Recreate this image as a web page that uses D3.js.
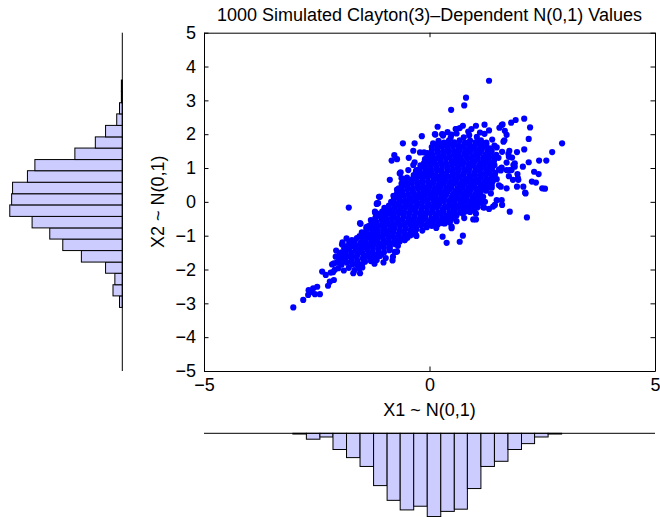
<!DOCTYPE html>
<html>
<head>
<meta charset="utf-8">
<script src="https://cdn.jsdelivr.net/npm/d3@7"></script>
<style>
  body { margin: 0; background: #fff; }
  text { font-family: "Liberation Sans", Arial, Helvetica, sans-serif; fill: #000; }
</style>
</head>
<body>
<svg id="grafico" width="660" height="517"></svg>
<script>
// valores
const titulo = '1000 Simulated Clayton(3)\u2013Dependent N(0,1) Values';
const rotuloX = 'X1 ~ N(0,1)';
const rotuloY = 'X2 ~ N(0,1)';
const ticksX = [-5, 0, 5];
const ticksY = [-5, -4, -3, -2, -1, 0, 1, 2, 3, 4, 5];

// histograma de X2 (lateral, de baixo para cima)
const bordasY = [-3.12, -2.78, -2.45, -2.11, -1.78, -1.44, -1.10, -0.77, -0.43, -0.09, 0.24,
  0.58, 0.92, 1.25, 1.59, 1.92, 2.26, 2.60, 2.93, 3.27, 3.60];
const contagemY = [3, 10, 8, 18, 44, 64, 78, 97, 121, 119, 118, 102, 94, 51, 29, 18, 6, 3, 1, 1];

// histograma de X1 (embaixo, da esquerda para a direita)
const bordasX = [-3.03, -2.73, -2.43, -2.14, -1.84, -1.54, -1.24, -0.94, -0.65, -0.35, -0.05,
  0.25, 0.55, 0.84, 1.14, 1.44, 1.74, 2.04, 2.33, 2.63, 2.93];
const contagemX = [1, 8, 5, 22, 33, 45, 71, 91, 104, 99, 113, 106, 103, 75, 45, 38, 22, 14, 5, 1];

// pontos isolados / borda da nuvem
const pontosBorda = [
  [0.81,3.08],[0.77,2.85],[0.48,2.72],[1.32,3.58],[0.74,2.25],[1.03,2.25],[0.93,2.15],[0.13,1.99],
  [0.29,1.99],[0.49,1.99],[0.59,2.15],[-0.17,1.94],[-0.59,1.73],[-0.33,1.73],[0.08,1.73],[0.19,1.68],
  [-0.36,1.51],[-0.21,1.46],[-0.12,1.46],[-0.78,1.38],[-0.84,1.22],[-0.72,1.26],[-0.46,1.30],[-0.33,1.17],
  [-0.03,1.19],[0.08,1.26],[-0.88,0.65],[-0.64,0.87],[-0.47,0.94],[-0.68,0.40],[-1.10,0.15],[-1.17,-0.06],
  [-1.79,-0.17],[-1.20,-0.34],[-0.66,0.84],[-0.62,0.70],[-0.43,0.60],[-0.36,1.09],[-0.29,0.94],
  [2.10,2.46],[1.91,2.42],[1.81,2.34],[1.62,2.29],[1.55,2.19],[2.23,2.20],[1.32,2.11],[1.67,2.10],
  [1.71,1.98],[1.66,1.82],[2.20,1.86],[2.94,1.73],[2.10,1.55],[2.72,1.47],[2.59,1.22],[2.43,1.22],
  [2.20,1.17],[2.07,1.04],[1.94,1.47],[1.75,1.42],[1.83,1.31],[1.89,1.14],[2.32,0.89],[2.42,0.82],
  [2.27,0.60],[2.36,0.57],[2.50,0.40],[2.56,0.39],[2.13,0.25],[1.96,0.70],[1.94,0.45],[1.78,-0.29],
  [2.16,-0.46],[1.61,-0.09],[1.49,0.05],[1.41,-0.14],[1.32,-0.21],[1.21,-0.17],[1.23,0.00],[1.54,0.49],
  [1.44,0.71],[1.58,0.45],[1.71,0.40],[1.38,0.42],[1.36,0.25],[1.34,1.05],[1.54,0.96],[1.71,0.94],
  [1.82,0.94],[1.89,1.04],[1.95,0.82],[1.76,0.76],[1.85,0.65],[1.71,1.16],[1.76,1.33],[1.49,1.61],
  [1.38,1.51],[1.30,1.38],[1.25,1.24],[1.19,1.73],[1.12,1.78],[0.12,2.00],[0.28,2.00],[0.58,2.15],
  [1.60,2.27],[1.64,1.78],[1.77,1.51],[1.86,1.09],[1.78,0.94],[1.97,0.65],[2.08,0.45],[2.12,0.27],
  [1.19,-0.16],[0.97,-0.52],[1.03,-0.52],[1.03,-0.35],[0.77,-0.48],[0.60,-0.57],[0.58,-0.39],[0.49,-0.78],
  [0.29,-1.03],[0.38,-1.21],[0.74,-1.00],[0.67,-1.18],[0.34,-0.64],[0.45,-0.61],[1.45,-0.09],[1.60,0.05],
  [1.19,0.15],[0.38,-0.44],[0.49,-0.73],
  [-3.02,-3.12],[-2.80,-2.90],[-2.68,-2.61],[-2.58,-2.56],[-2.49,-2.51],[-2.43,-2.73],[-2.54,-2.73],
  [-2.69,-2.75],[-2.25,-2.48],[-2.38,-2.06],[-2.30,-2.16],[-2.19,-2.09],[-2.10,-2.01],[-2.12,-2.31],
  [-2.21,-2.36],[-2.14,-2.08],[-1.93,-1.20],[-1.53,-0.65],[-1.69,-2.11],[-1.54,-2.11],[-0.82,-1.73],
  [-0.29,-1.01],[-2.12,-1.82],[-1.98,-1.72],[-1.84,-1.62],[-1.73,-1.77],[-1.60,-1.87],[-1.55,-1.97],
  [-1.36,-0.73],[-1.47,-1.03],[-1.25,-0.63],[-1.17,-0.34],[-1.16,-0.04],[-1.12,0.15],[-0.72,-1.47],
  [-0.81,-1.62],[-1.17,-1.72],[-1.10,-1.60],[-1.32,-1.67],[-0.55,-1.13],[-0.30,-0.98],[-2.62,-2.66],
  [-1.91,-1.52],[-1.80,-1.40],[-1.69,-1.31],[-1.58,-1.42],[-1.47,-1.33],[-1.43,-1.77],[-1.29,-1.57],
  [-1.29,-0.98],[-0.73,-1.47],[-1.54,-0.63],[-1.40,-0.75],[-1.21,-0.29],[-1.14,-0.04]
];

// miolo denso da nuvem
const pontosMiolo = [
  [-2.02,-1.96],[-1.90,-2.03],[-1.79,-1.95],[-1.66,-2.02],[-1.49,-1.94],
  [-2.16,-1.85],[-2.05,-1.79],[-1.95,-1.86],[-1.83,-1.80],[-1.71,-1.85],[-1.60,-1.78],[-1.49,-1.84],[-1.22,-1.83],[-1.02,-1.79],
  [-2.08,-1.62],[-1.96,-1.67],[-1.85,-1.60],[-1.72,-1.66],[-1.61,-1.61],[-1.48,-1.67],[-1.37,-1.59],[-1.25,-1.65],[-1.12,-1.60],[-0.97,-1.66],
  [-2.07,-1.44],[-1.95,-1.49],[-1.84,-1.43],[-1.72,-1.50],[-1.60,-1.45],[-1.49,-1.50],[-1.37,-1.43],[-1.26,-1.49],[-1.13,-1.44],[-1.01,-1.50],[-0.89,-1.43],[-0.77,-1.48],
  [-1.94,-1.26],[-1.83,-1.31],[-1.71,-1.25],[-1.59,-1.30],[-1.47,-1.24],[-1.36,-1.31],[-1.24,-1.26],[-1.12,-1.30],[-1.00,-1.24],[-0.88,-1.31],[-0.76,-1.25],[-0.70,-1.30],
  [-1.84,-1.08],[-1.72,-1.13],[-1.61,-1.07],[-1.49,-1.12],[-1.37,-1.06],[-1.25,-1.13],[-1.14,-1.07],[-1.02,-1.12],[-0.90,-1.06],[-0.78,-1.12],[-0.67,-1.07],[-0.55,-1.13],[-0.49,-1.06],
  [-1.50,-0.90],[-1.38,-0.95],[-1.27,-0.89],[-1.15,-0.94],[-1.03,-0.90],[-0.91,-0.96],[-0.80,-0.89],[-0.68,-0.94],[-0.56,-0.90],[-0.44,-0.95],[-0.32,-0.88],
  [-1.35,-0.72],[-1.23,-0.77],[-1.12,-0.71],[-1.00,-0.76],[-0.88,-0.70],[-0.77,-0.76],[-0.65,-0.71],[-0.53,-0.77],[-0.41,-0.71],[-0.30,-0.76],[-0.18,-0.70],[-0.06,-0.75],[0.05,-0.71],[0.15,-0.77],
  [-1.30,-0.54],[-1.18,-0.59],[-1.06,-0.53],[-0.95,-0.58],[-0.83,-0.52],[-0.71,-0.58],[-0.60,-0.53],[-0.48,-0.59],[-0.36,-0.53],[-0.24,-0.58],[-0.13,-0.52],[-0.01,-0.58],[0.11,-0.53],[0.23,-0.59],[0.34,-0.53],[0.45,-0.57],
  [-1.15,-0.36],[-1.03,-0.41],[-0.92,-0.35],[-0.80,-0.40],[-0.68,-0.34],[-0.57,-0.40],[-0.45,-0.35],[-0.33,-0.41],[-0.21,-0.35],[-0.10,-0.40],[0.02,-0.34],[0.14,-0.40],[0.25,-0.35],[0.37,-0.41],[0.49,-0.36],[0.60,-0.40],[0.74,-0.35],
  [-1.00,-0.18],[-0.88,-0.23],[-0.77,-0.17],[-0.65,-0.22],[-0.53,-0.16],[-0.41,-0.22],[-0.30,-0.17],[-0.18,-0.23],[-0.06,-0.17],[0.06,-0.22],[0.17,-0.16],[0.29,-0.22],[0.41,-0.17],[0.53,-0.23],[0.64,-0.17],[0.76,-0.22],[0.88,-0.16],[0.99,-0.22],[1.06,-0.17],
  [-0.85,0.00],[-0.73,-0.05],[-0.62,0.01],[-0.50,-0.04],[-0.38,0.02],[-0.26,-0.04],[-0.15,0.01],[-0.03,-0.05],[0.09,0.01],[0.21,-0.04],[0.32,0.02],[0.44,-0.04],[0.56,0.01],[0.68,-0.05],[0.79,0.00],[0.91,-0.04],[1.03,0.01],[1.14,-0.03],
  [-0.80,0.18],[-0.68,0.13],[-0.57,0.19],[-0.45,0.14],[-0.33,0.20],[-0.21,0.14],[-0.10,0.19],[0.02,0.13],[0.14,0.19],[0.26,0.14],[0.37,0.20],[0.49,0.13],[0.61,0.19],[0.73,0.14],[0.84,0.19],[0.96,0.13],[1.08,0.18],[1.15,0.14],
  [-0.72,0.36],[-0.60,0.31],[-0.49,0.37],[-0.37,0.32],[-0.25,0.38],[-0.13,0.31],[-0.02,0.37],[0.10,0.32],[0.22,0.38],[0.34,0.31],[0.45,0.37],[0.57,0.32],[0.69,0.38],[0.81,0.31],[0.92,0.37],[1.04,0.32],[1.16,0.37],[1.25,0.33],
  [-0.62,0.54],[-0.50,0.49],[-0.39,0.55],[-0.27,0.50],[-0.15,0.56],[-0.03,0.49],[0.08,0.55],[0.20,0.50],[0.32,0.56],[0.44,0.49],[0.55,0.55],[0.67,0.50],[0.79,0.56],[0.91,0.49],[1.02,0.55],[1.14,0.50],[1.26,0.56],[1.38,0.50],
  [-0.50,0.72],[-0.38,0.67],[-0.27,0.73],[-0.15,0.68],[-0.03,0.74],[0.09,0.67],[0.20,0.73],[0.32,0.68],[0.44,0.74],[0.56,0.67],[0.67,0.73],[0.79,0.68],[0.91,0.74],[1.03,0.67],[1.14,0.73],[1.26,0.68],[1.38,0.72],[1.49,0.67],
  [-0.30,0.90],[-0.18,0.85],[-0.07,0.91],[0.05,0.86],[0.17,0.92],[0.29,0.85],[0.40,0.91],[0.52,0.86],[0.64,0.92],[0.76,0.85],[0.87,0.91],[0.99,0.86],[1.11,0.92],[1.23,0.85],[1.34,0.91],[1.46,0.86],[1.58,0.93],
  [-0.20,1.08],[-0.08,1.03],[0.03,1.09],[0.15,1.04],[0.27,1.10],[0.39,1.03],[0.50,1.09],[0.62,1.04],[0.74,1.10],[0.86,1.03],[0.97,1.09],[1.09,1.04],[1.21,1.10],[1.33,1.03],[1.44,1.09],[1.60,1.01],
  [-0.10,1.26],[0.02,1.21],[0.13,1.27],[0.25,1.22],[0.37,1.28],[0.49,1.21],[0.60,1.27],[0.72,1.22],[0.84,1.28],[0.96,1.21],[1.07,1.27],[1.19,1.22],[1.31,1.28],[1.43,1.21],[1.53,1.30],
  [-0.05,1.44],[0.07,1.39],[0.18,1.45],[0.30,1.40],[0.42,1.46],[0.54,1.39],[0.65,1.45],[0.77,1.40],[0.89,1.46],[1.01,1.39],[1.12,1.45],[1.24,1.40],[1.36,1.46],[1.48,1.39],[1.61,1.48],
  [0.05,1.62],[0.17,1.57],[0.28,1.63],[0.40,1.58],[0.52,1.64],[0.64,1.57],[0.75,1.63],[0.87,1.58],[0.99,1.64],[1.11,1.57],[1.22,1.63],[1.34,1.58],[1.44,1.66],
  [0.20,1.80],[0.32,1.75],[0.43,1.81],[0.55,1.76],[0.67,1.82],[0.79,1.75],[0.90,1.81],[1.02,1.76],[1.14,1.82],[1.26,1.75],[1.39,1.84],
  [0.30,1.96],[0.47,1.90],[0.60,2.02],[0.76,1.91],[0.88,1.97],[1.05,1.92],[1.22,2.01],
  [0.18,2.22],[0.40,2.06],[0.67,2.18],[0.86,2.08],[1.12,2.05],[1.22,2.28]
];

// pontos entre as fileiras do miolo (preenchem os buracos)
const pontosEntre = [
  [-2.00,-1.72],[-1.86,-1.75],[-1.73,-1.71],[-1.60,-1.74],[-1.45,-1.72],[-1.30,-1.75],
  [-1.99,-1.55],[-1.86,-1.53],[-1.74,-1.57],[-1.60,-1.54],[-1.47,-1.56],[-1.34,-1.53],[-1.20,-1.57],[-1.07,-1.55],
  [-1.89,-1.37],[-1.77,-1.35],[-1.64,-1.39],[-1.52,-1.36],[-1.39,-1.38],[-1.26,-1.35],[-1.14,-1.39],[-1.01,-1.36],[-0.88,-1.38],
  [-1.78,-1.19],[-1.66,-1.17],[-1.53,-1.21],[-1.41,-1.18],[-1.29,-1.20],[-1.16,-1.17],[-1.04,-1.21],[-0.91,-1.18],[-0.79,-1.20],[-0.66,-1.17],
  [-1.55,-1.01],[-1.42,-0.99],[-1.30,-1.03],[-1.18,-1.00],[-1.05,-1.02],[-0.93,-0.99],[-0.80,-1.03],[-0.68,-1.00],[-0.55,-1.02],[-0.42,-0.99],
  [-1.40,-0.83],[-1.28,-0.81],[-1.16,-0.85],[-1.03,-0.82],[-0.91,-0.84],[-0.79,-0.81],[-0.66,-0.85],[-0.54,-0.82],[-0.42,-0.84],[-0.29,-0.81],[-0.16,-0.85],
  [-1.29,-0.65],[-1.17,-0.63],[-1.05,-0.67],[-0.92,-0.64],[-0.80,-0.66],[-0.68,-0.63],[-0.55,-0.67],[-0.43,-0.64],[-0.30,-0.66],[-0.18,-0.63],[-0.06,-0.67],[0.07,-0.64],[0.19,-0.66],[0.30,-0.63],
  [-1.20,-0.47],[-1.08,-0.45],[-0.96,-0.49],[-0.83,-0.46],[-0.71,-0.48],[-0.58,-0.45],[-0.46,-0.49],[-0.34,-0.46],[-0.21,-0.48],[-0.09,-0.45],[0.04,-0.49],[0.16,-0.46],[0.28,-0.48],[0.41,-0.45],[0.53,-0.49],
  [-1.05,-0.29],[-0.93,-0.27],[-0.80,-0.31],[-0.68,-0.28],[-0.56,-0.30],[-0.43,-0.27],[-0.31,-0.31],[-0.18,-0.28],[-0.06,-0.30],[0.07,-0.27],[0.19,-0.31],[0.31,-0.28],[0.44,-0.30],[0.56,-0.27],[0.68,-0.31],[0.81,-0.28],[0.90,-0.30],
  [-0.90,-0.11],[-0.78,-0.09],[-0.65,-0.13],[-0.53,-0.10],[-0.41,-0.12],[-0.28,-0.09],[-0.16,-0.13],[-0.03,-0.10],[0.09,-0.12],[0.21,-0.09],[0.34,-0.13],[0.46,-0.10],[0.58,-0.12],[0.71,-0.09],[0.83,-0.13],[0.95,-0.10],[1.05,-0.12],
  [-0.79,0.07],[-0.67,0.09],[-0.54,0.05],[-0.42,0.08],[-0.30,0.06],[-0.17,0.09],[-0.05,0.05],[0.08,0.08],[0.20,0.06],[0.32,0.09],[0.45,0.05],[0.57,0.08],[0.69,0.06],[0.82,0.09],[0.94,0.05],[1.06,0.08],
  [-0.72,0.25],[-0.60,0.27],[-0.47,0.23],[-0.35,0.26],[-0.23,0.24],[-0.10,0.27],[0.02,0.23],[0.15,0.26],[0.27,0.24],[0.39,0.27],[0.52,0.23],[0.64,0.26],[0.76,0.24],[0.89,0.27],[1.01,0.23],[1.13,0.26],
  [-0.62,0.43],[-0.50,0.45],[-0.37,0.41],[-0.25,0.44],[-0.13,0.42],[0.00,0.45],[0.12,0.41],[0.25,0.44],[0.37,0.42],[0.49,0.45],[0.62,0.41],[0.74,0.44],[0.86,0.42],[0.99,0.45],[1.11,0.41],[1.23,0.44],[1.30,0.42],
  [-0.52,0.61],[-0.40,0.63],[-0.27,0.59],[-0.15,0.62],[-0.03,0.60],[0.10,0.63],[0.22,0.59],[0.35,0.62],[0.47,0.60],[0.59,0.63],[0.72,0.59],[0.84,0.62],[0.96,0.60],[1.09,0.63],[1.21,0.59],[1.33,0.62],[1.40,0.60],
  [-0.35,0.79],[-0.23,0.81],[-0.10,0.77],[0.02,0.80],[0.14,0.78],[0.27,0.81],[0.39,0.77],[0.52,0.80],[0.64,0.78],[0.76,0.81],[0.89,0.77],[1.01,0.80],[1.13,0.78],[1.26,0.81],[1.38,0.77],[1.45,0.80],
  [-0.22,0.97],[-0.10,0.99],[0.03,0.95],[0.15,0.98],[0.27,0.96],[0.40,0.99],[0.52,0.95],[0.65,0.98],[0.77,0.96],[0.89,0.99],[1.02,0.95],[1.14,0.98],[1.26,0.96],[1.39,0.99],
  [-0.12,1.15],[0.00,1.17],[0.13,1.13],[0.25,1.16],[0.37,1.14],[0.50,1.17],[0.62,1.13],[0.75,1.16],[0.87,1.14],[0.99,1.17],[1.12,1.13],[1.24,1.16],[1.36,1.14],
  [-0.05,1.33],[0.07,1.35],[0.20,1.31],[0.32,1.34],[0.44,1.32],[0.57,1.35],[0.69,1.31],[0.82,1.34],[0.94,1.32],[1.06,1.35],[1.19,1.31],[1.31,1.34],[1.43,1.32],
  [0.05,1.51],[0.17,1.53],[0.30,1.49],[0.42,1.52],[0.54,1.50],[0.67,1.53],[0.79,1.49],[0.92,1.52],[1.04,1.50],[1.16,1.53],[1.29,1.49],
  [0.15,1.69],[0.27,1.71],[0.40,1.67],[0.52,1.70],[0.64,1.68],[0.77,1.71],[0.89,1.67],[1.02,1.70],[1.14,1.68],[1.26,1.71]
];

const svg = d3.select('#grafico');

// eixo principal
const x = d3.scaleLinear().domain([-5, 5]).range([204, 655]);
const y = d3.scaleLinear().domain([-5, 5]).range([371, 32.7]);

// histogramas: escala de contagem
const hx = d3.scaleLinear().domain([0, 130]).range([122.3, 1.4]);
const hy = d3.scaleLinear().domain([0, 120]).range([433.3, 521.7]);

const corBarra = '#ccccff';

// histograma lateral (X2)
svg.append('g').selectAll('rect')
  .data(contagemY)
  .enter()
  .append('rect')
  .attr('x', d => hx(d))
  .attr('width', d => hx(0) - hx(d))
  .attr('y', (d, i) => y(bordasY[i + 1]))
  .attr('height', (d, i) => y(bordasY[i]) - y(bordasY[i + 1]))
  .attr('fill', corBarra)
  .attr('stroke', '#000')
  .attr('stroke-width', 1);

svg.append('line')
  .attr('x1', hx(0)).attr('x2', hx(0))
  .attr('y1', y(5)).attr('y2', y(-5))
  .attr('stroke', '#000');

// histograma de baixo (X1)
svg.append('g').selectAll('rect')
  .data(contagemX)
  .enter()
  .append('rect')
  .attr('x', (d, i) => x(bordasX[i]))
  .attr('width', (d, i) => x(bordasX[i + 1]) - x(bordasX[i]))
  .attr('y', hy(0))
  .attr('height', d => hy(d) - hy(0))
  .attr('fill', corBarra)
  .attr('stroke', '#000')
  .attr('stroke-width', 1);

svg.append('line')
  .attr('x1', x(-5)).attr('x2', x(5))
  .attr('y1', hy(0)).attr('y2', hy(0))
  .attr('stroke', '#000');

// pontos
const todos = pontosBorda.concat(pontosMiolo, pontosEntre);
svg.append('g').selectAll('circle')
  .data(todos)
  .enter()
  .append('circle')
  .attr('cx', d => x(d[0]))
  .attr('cy', d => y(d[1]))
  .attr('r', 3.1)
  .attr('fill', '#0000ff');

// eixos (ticks para dentro)
const fonte = 18;
const gB = svg.append('g').attr('transform', `translate(0,${y(-5)})`)
  .call(d3.axisBottom(x).tickValues(ticksX).tickSizeInner(-4.5).tickSizeOuter(0).tickPadding(7));
const gT = svg.append('g').attr('transform', `translate(0,${y(5)})`)
  .call(d3.axisTop(x).tickValues(ticksX).tickSizeInner(-4.5).tickSizeOuter(0).tickFormat(''));
const gL = svg.append('g').attr('transform', `translate(${x(-5)},0)`)
  .call(d3.axisLeft(y).tickValues(ticksY).tickSizeInner(-4.5).tickSizeOuter(0).tickPadding(8));
const gR = svg.append('g').attr('transform', `translate(${x(5)},0)`)
  .call(d3.axisRight(y).tickValues(ticksY).tickSizeInner(-4.5).tickSizeOuter(0).tickFormat(''));

[gB, gT, gL, gR].forEach(g => {
  g.selectAll('path.domain').attr('stroke', '#000').attr('stroke-width', 1);
  g.selectAll('.tick line').attr('stroke', '#000');
  g.selectAll('text').attr('font-size', fonte).attr('fill', '#000')
    .attr('font-family', '"Liberation Sans", Arial, sans-serif');
});

// textos
svg.append('text')
  .attr('x', x(0)).attr('y', 21)
  .attr('text-anchor', 'middle')
  .attr('font-size', fonte)
  .text(titulo);

svg.append('text')
  .attr('x', x(0)).attr('y', 416)
  .attr('text-anchor', 'middle')
  .attr('font-size', fonte)
  .text(rotuloX);

svg.append('text')
  .attr('transform', `translate(164,${y(0)}) rotate(-90)`)
  .attr('text-anchor', 'middle')
  .attr('font-size', fonte)
  .text(rotuloY);
</script>
</body>
</html>
